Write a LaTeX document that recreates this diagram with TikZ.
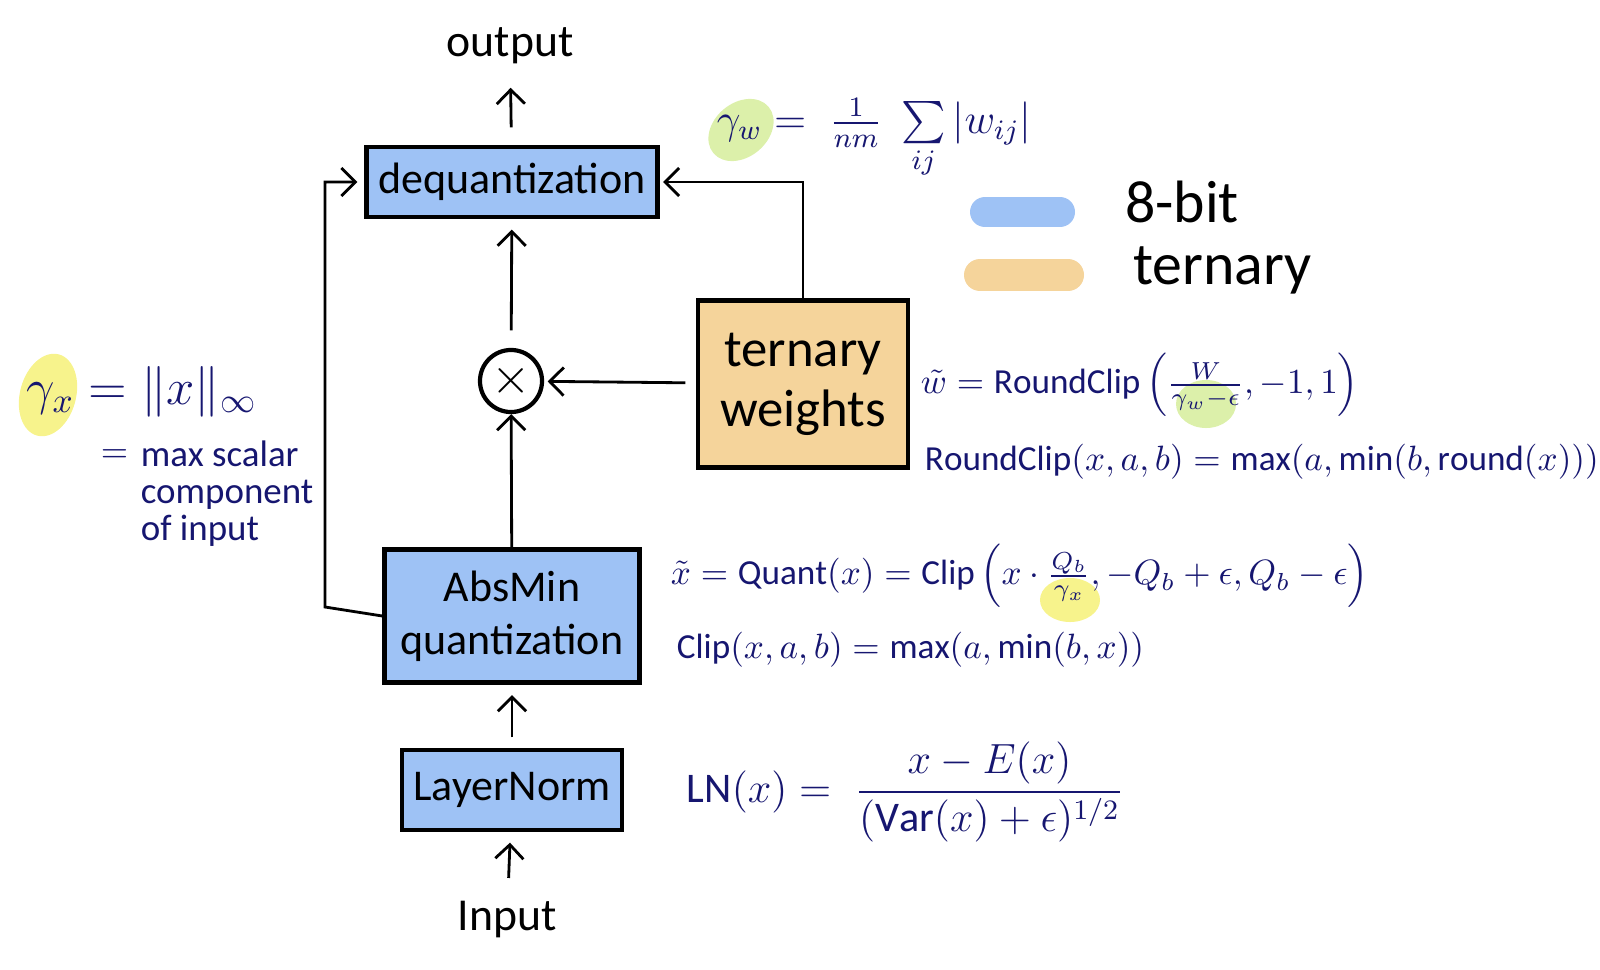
\documentclass[tikz,border=0pt]{standalone}
\usepackage{amsmath, amsfonts}
\usepackage{fontspec}
\setmainfont{Carlito}
\usepackage{tikz}
\usetikzlibrary{arrows.meta}

\definecolor{bitblue}{RGB}{158,194,245}
\definecolor{ternorange}{RGB}{245,212,155}
\definecolor{markyellow}{RGB}{247,243,140}
\definecolor{markgreen}{RGB}{220,240,170}
\definecolor{inknavy}{RGB}{22,22,112}

\tikzset{
  eightbit/.style={draw, very thick, fill=bitblue, align=center, font=\fontsize{12.5}{15}\selectfont},
  ternbox/.style={draw, very thick, fill=ternorange, align=center, font=\fontsize{15}{17}\selectfont},
  termtext/.style={font=\fontsize{13}{15}\selectfont},
  mathnote/.style={text=inknavy, font=\normalsize, anchor=west, inner sep=1pt},
}

\begin{document}
\begin{tikzpicture}[x=0.01cm, y=-0.01cm, thick, >={Straight Barb[length=4pt, width=8pt]}]
            \useasboundingbox (0,0) rectangle (1600,970);
            % highlighter marks
            \fill[markyellow, rotate around={-15:(48,395)}] (48,395) ellipse [x radius=0.28cm, y radius=0.42cm];
            \fill[markgreen, rotate around={40:(741,130)}] (741,130) ellipse [x radius=0.36cm, y radius=0.27cm];
            \fill[markgreen] (1206,404) ellipse [x radius=0.3cm, y radius=0.24cm];
            \fill[markyellow] (1070,600) ellipse [x radius=0.3cm, y radius=0.22cm];
            % legend
            \draw[bitblue, line width=0.3cm, line cap=round] (985,212) -- (1060,212);
            \draw[ternorange, line width=0.32cm, line cap=round] (980,275) -- (1068,275);
            \node[termtext, font=\fontsize{17}{19}\selectfont, anchor=west] (legbit) at (1112,202) {8-bit};
            \node[termtext, font=\fontsize{17}{19}\selectfont, anchor=west] (legtern) at (1120,270) {ternary};
            % blocks
            \node[eightbit, minimum width=2.70cm, minimum height=0.70cm] (deq) at (512,182) {dequantization};
            \node[draw, very thick, circle, minimum size=0.62cm, inner sep=0pt, font=\Large] (times) at (511,381) {$\times$};
            \node[ternbox, minimum width=2.10cm, minimum height=1.67cm] (tern) at (803,384) {ternary\\weights};
            \node[eightbit, minimum width=2.55cm, minimum height=1.33cm] (absq) at (512,616) {AbsMin\\quantization};
            \node[eightbit, minimum width=2.11cm, minimum height=0.80cm] (ln) at (512,790) {LayerNorm};
            \node[termtext] (output) at (510,46) {output};
            \node[termtext] (input) at (507,920) {Input};
            \coordinate (skipleft) at (325,607);
            % connectors
            \draw[->, shorten <=5pt, shorten >=3pt] (deq) -- (output);
            \draw[->, shorten <=5pt, shorten >=3pt] (times) -- (deq);
            \draw[->, shorten <=3pt, shorten >=1pt] (tern) -- (times);
            \draw[->, shorten >=1pt] (tern.north) |- (deq.east);
            \draw[->] (absq) -- (times);
            \draw[->, shorten >=2pt] (absq.west) -- (skipleft) |- (deq.west);
            \draw[->, shorten <=3pt, shorten >=3pt] (ln) -- (absq);
            \draw[->, shorten <=3pt, shorten >=3pt] (input) -- (ln);
            % formulas
            \node[mathnote, font=\large] (gammaw) at (712,139) {$\gamma_w = \;\frac{1}{nm}\; \sum\limits_{ij} |w_{ij}|$};
            \node[mathnote, font=\Large] (gammax) at (22,392) {$\gamma_x = \|x\|_\infty$};
            \node[mathnote] (eqmax) at (96,456) {$=$};
            \node[mathnote, font=\fontsize{10.5}{10.5}\selectfont, align=left, anchor=north west] (maxdesc) at (136,436) {max scalar\\component\\of input};
            \node[mathnote] (wtilde) at (916,385) {$\tilde{w} = \mathrm{RoundClip}\left(\frac{W}{\gamma_w-\epsilon}, -1, 1\right)$};
            \node[mathnote, font=\fontsize{10}{12}\selectfont] (roundclip) at (920,462) {$\mathrm{RoundClip}(x,a,b) = \max(a, \min(b, \mathrm{round}(x)))$};
            \node[mathnote] (xtilde) at (666,576) {$\tilde{x} = \mathrm{Quant}(x) = \mathrm{Clip}\left(x\cdot\frac{Q_b}{\gamma_x}, -Q_b+\epsilon, Q_b-\epsilon\right)$};
            \node[mathnote] (clipdef) at (672,650) {$\mathrm{Clip}(x,a,b) = \max(a, \min(b, x))$};
            \node[mathnote, font=\large] (lnform) at (682,792) {$\mathrm{LN}(x) = \; \dfrac{x - E(x)}{(\mathrm{Var}(x)+\epsilon)^{1/2}}$};
        \end{tikzpicture}
\end{document}
